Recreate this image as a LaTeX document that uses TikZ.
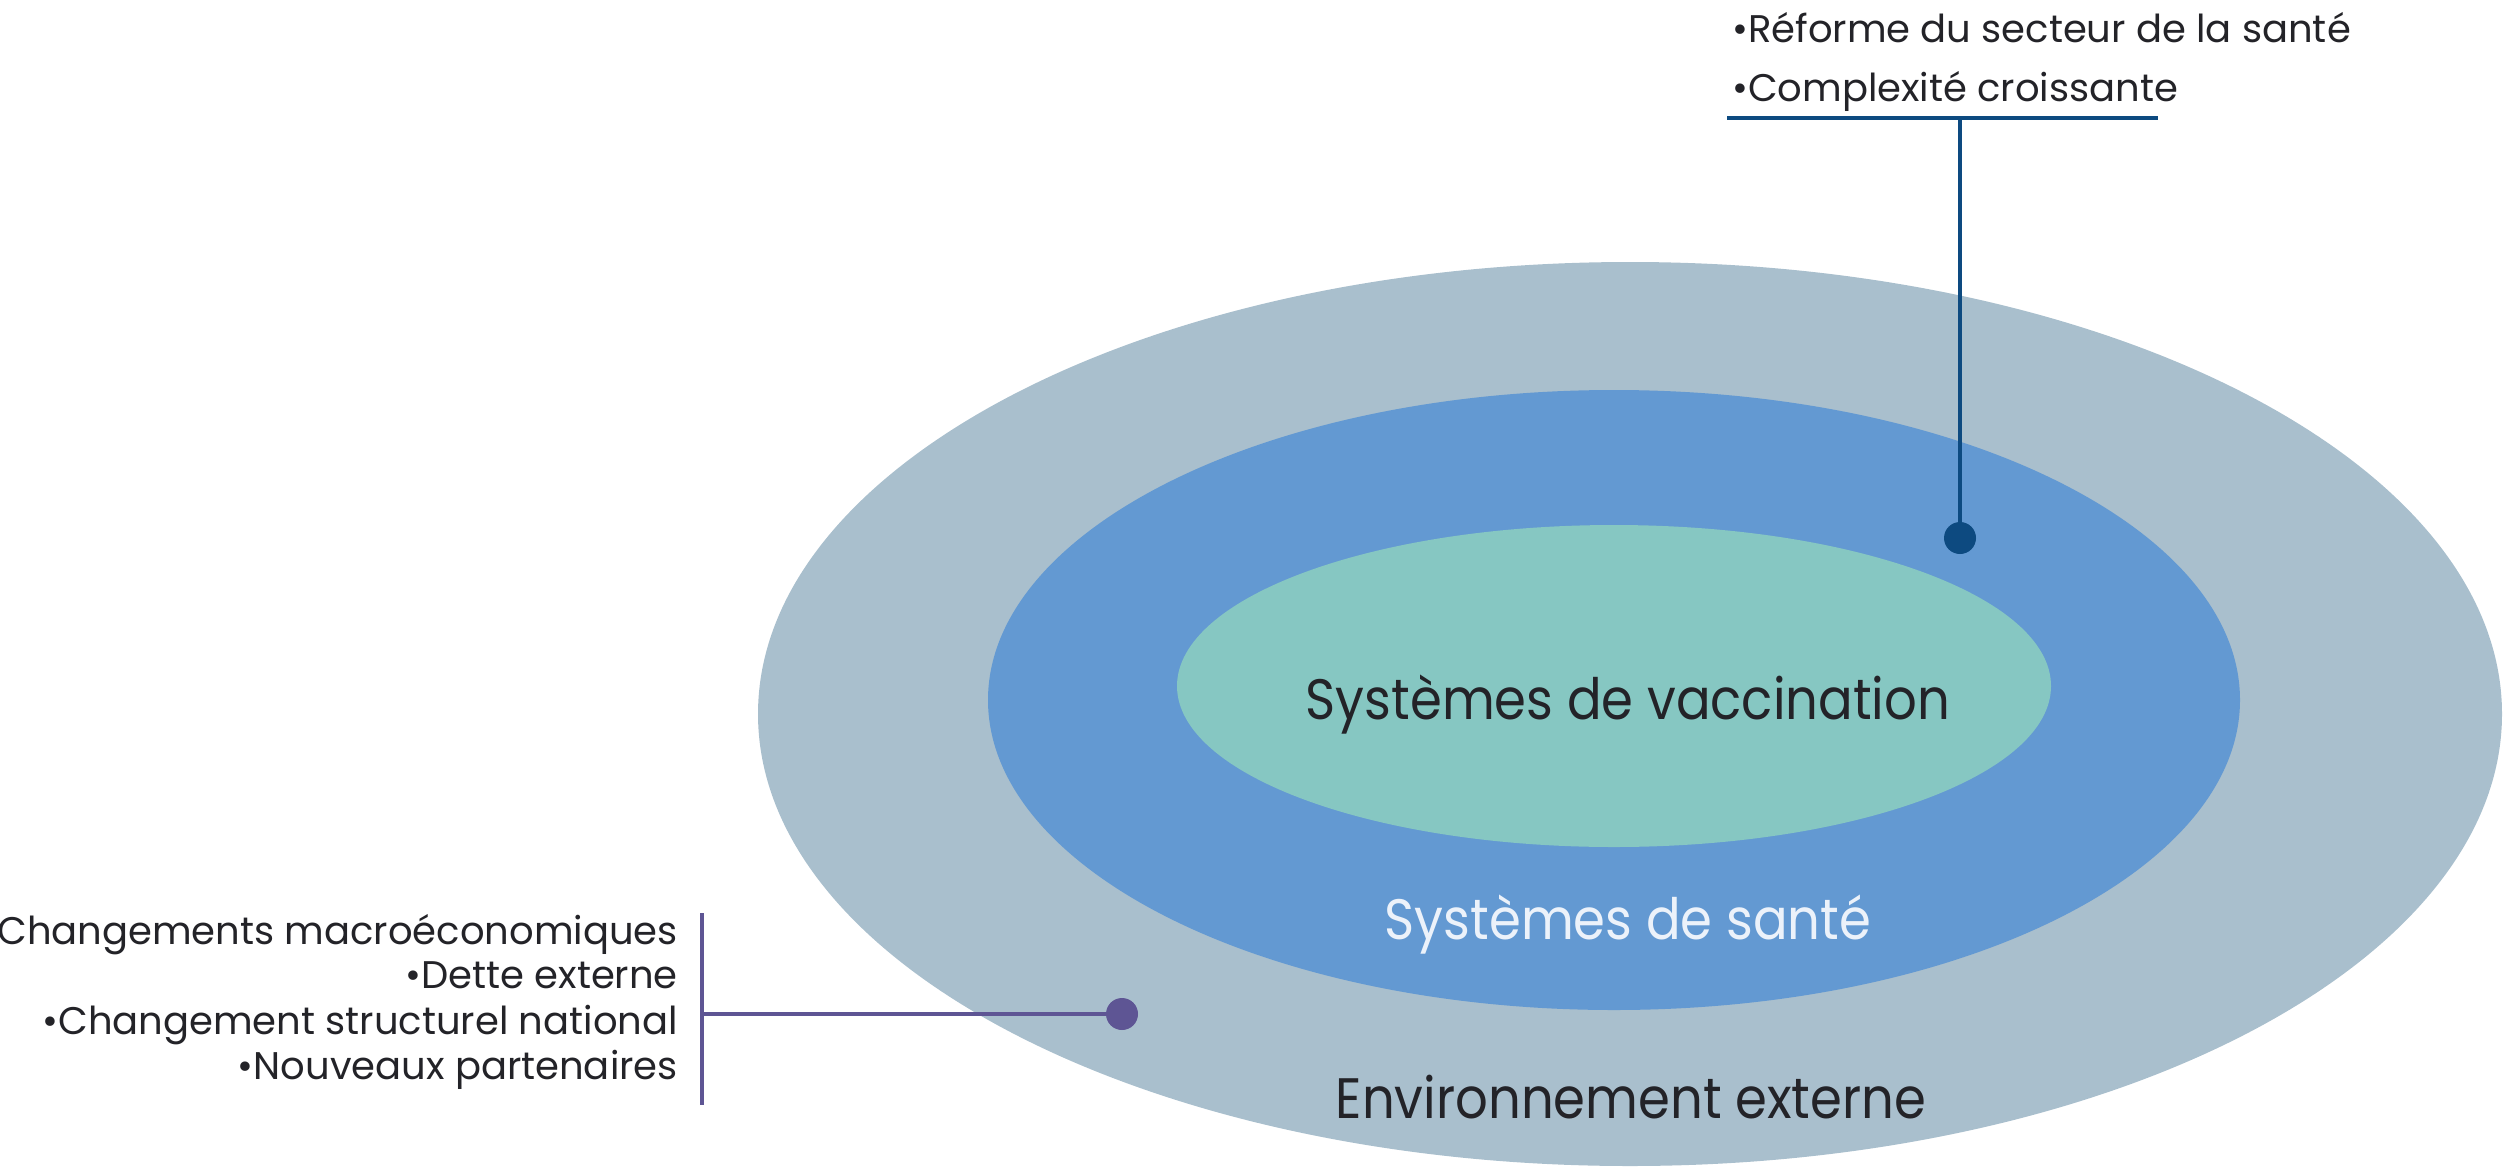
\documentclass[tikz,border=0pt]{standalone}
\usepackage{fontspec}
\usepackage{graphicx}
\setmainfont{Poppins}
\definecolor{outerc}{RGB}{169,191,205}
\definecolor{midc}{RGB}{99,153,210}
\definecolor{innerc}{RGB}{134,199,194}
\definecolor{navy}{RGB}{13,74,128}
\definecolor{plum}{RGB}{94,85,148}
\definecolor{ink}{RGB}{35,35,40}
\definecolor{pale}{RGB}{236,242,250}
\newcommand\narrowtxt[1]{\scalebox{0.9}[1]{#1}}
\tikzset{
  big/.style={font=\fontsize{57}{64}\selectfont, text=ink, inner sep=0pt},
  small/.style={font=\fontsize{38.5}{44}\selectfont, text=ink, inner sep=0pt},
  dotnode/.style={circle, inner sep=0pt, minimum size=32pt},
}
\begin{document}
\begin{tikzpicture}[x=1pt,y=-1pt]
\useasboundingbox (0,0) rectangle (2503,1171);
% ellipses
\fill[outerc] (1630,714) ellipse [x radius=872pt, y radius=452pt];
\fill[midc] (1614,700) ellipse [x radius=626pt, y radius=310pt];
\fill[innerc] (1614,686) ellipse [x radius=437pt, y radius=161pt];
% labels
\node[big, anchor=base] (vacc) at (1628,719) {\narrowtxt{Systèmes de vaccination}};
\node[big, anchor=base, text=pale] (sante) at (1628,939) {\narrowtxt{Systèmes de santé}};
\node[big, anchor=base] (env) at (1631,1118) {\narrowtxt{Environnement externe}};
% top callout
\node[small, anchor=base west] (t1) at (1732,42) {•Réforme du secteur de la santé};
\node[small, anchor=base west] (t2) at (1732,101) {•Complexité croissante};
\coordinate (ulL) at (1727,118);
\coordinate (ulR) at (2158,118);
\coordinate (ulM) at (1960,118);
\node[dotnode, fill=navy] (dA) at (1960,538) {};
\draw[navy, line width=4pt] (ulL) -- (ulR);
\draw[navy, line width=4pt] (ulM) -- (dA.center);
% left callout
\node[small, anchor=base east] (l1) at (678,944) {Changements macroéconomiques};
\node[small, anchor=base east] (l2) at (678,988) {•Dette externe};
\node[small, anchor=base east] (l3) at (678,1034) {•Changement structurel national};
\node[small, anchor=base east] (l4) at (678,1079) {•Nouveaux partenaires};
\coordinate (barT) at (702,913);
\coordinate (barB) at (702,1105);
\coordinate (barM) at (702,1014);
\node[dotnode, fill=plum] (dB) at (1122,1014) {};
\draw[plum, line width=3.5pt] (barT) -- (barB);
\draw[plum, line width=3.5pt] (barM) -- (dB.center);
\end{tikzpicture}
\end{document}
